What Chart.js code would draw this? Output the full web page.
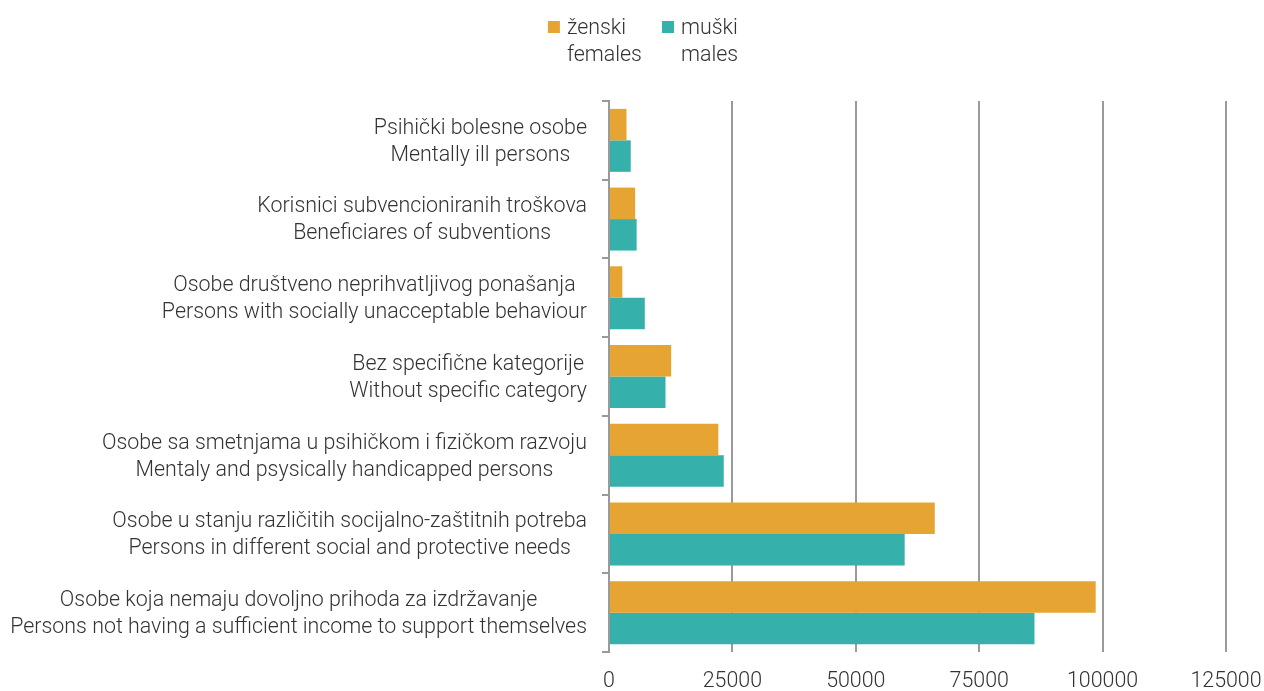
<!DOCTYPE html>
<html>
<head>
<meta charset="utf-8">
<script src="https://cdn.jsdelivr.net/npm/chart.js@4.4.1/dist/chart.umd.min.js"></script>
<style>
    html, body { margin: 0; padding: 0; background: #fff; }
    #wrap { width: 1264px; height: 691px; position: relative; }
</style>
</head>
<body>
<div id="wrap"><canvas id="chart"></canvas></div>
<script>
// ── Data ──────────────────────────────────────────────────────────────────────

const categoriesHr = [
    'Psihički bolesne osobe',
    'Korisnici subvencioniranih troškova',
    'Osobe društveno neprihvatljivog ponašanja',
    'Bez specifične kategorije',
    'Osobe sa smetnjama u psihičkom i fizičkom razvoju',
    'Osobe u stanju različitih socijalno-zaštitnih potreba',
    'Osobe koja nemaju dovoljno prihoda za izdržavanje',
];
const categoriesEn = [
    'Mentally ill persons',
    'Beneficiares of subventions',
    'Persons with socially unacceptable behaviour',
    'Without specific category',
    'Mentaly and psysically handicapped persons',
    'Persons in different social and protective needs',
    'Persons not having a sufficient income to support themselves',
];
const femaleValues = [3550, 5300, 2700, 12600, 22150, 66000, 98600];
const maleValues = [4400, 5600, 7250, 11450, 23250, 59900, 86200];
const xTickValues = [0, 25000, 50000, 75000, 100000, 125000];
const seriesLabels = [['ženski', 'females'], ['muški', 'males']];

const colors = { female: '#e6a532', male: '#35b0aa', grid: '#9a9a9a', text: '#333333' };
const FONT = 'Roboto';
const FONT_SIZE = 21.4;

// ── Plugins ───────────────────────────────────────────────────────────────────

// two-line category labels, lines centred on each other, block right-aligned
const blockLabelsPlugin = {
    id: 'blockLabels',
    afterDraw(chart) {
        const { ctx, chartArea } = chart;
        const yScale = chart.scales.y;
        const right = chartArea.left - 22;
        const lineH = 27;
        ctx.save();
        ctx.font = `300 ${FONT_SIZE}px ${FONT}`;
        ctx.fillStyle = colors.text;
        ctx.textAlign = 'center';
        ctx.textBaseline = 'middle';
        categoriesHr.forEach((hr, i) => {
            const lines = [hr, categoriesEn[i]];
            const w = Math.max(...lines.map((l) => ctx.measureText(l).width));
            const cx = right - w / 2;
            const cy = yScale.getPixelForValue(i) + 1.5;
            ctx.fillText(lines[0], cx, cy - lineH / 2);
            ctx.fillText(lines[1], cx, cy + lineH / 2);
        });
        ctx.restore();
    },
};

// legend: square + two-line text per series, centred at the top
const twoLineLegendPlugin = {
    id: 'twoLineLegend',
    afterDraw(chart) {
        const { ctx, width } = chart;
        const box = 12;
        const gap = 7;
        const spacing = 20;
        ctx.save();
        ctx.font = `300 ${FONT_SIZE}px ${FONT}`;
        ctx.textBaseline = 'middle';
        ctx.textAlign = 'left';
        const itemWidths = seriesLabels.map((lines) =>
            box + gap + Math.max(...lines.map((l) => ctx.measureText(l).width)));
        const total = itemWidths.reduce((a, b) => a + b, 0) + spacing * (itemWidths.length - 1);
        let x = width / 2 - total / 2 + 11;
        chart.data.datasets.forEach((ds, i) => {
            ctx.fillStyle = ds.backgroundColor;
            ctx.fillRect(x, 21, box, box);
            ctx.fillStyle = colors.text;
            seriesLabels[i].forEach((line, j) => {
                ctx.fillText(line, x + box + gap, 28.5 + j * 27.5);
            });
            x += itemWidths[i] + spacing;
        });
        ctx.restore();
    },
};

// ── Chart ─────────────────────────────────────────────────────────────────────

new Chart(document.getElementById('chart'), {
    type: 'bar',
    data: {
        labels: categoriesHr,
        datasets: [
            { label: 'ženski females', data: femaleValues, backgroundColor: colors.female },
            { label: 'muški males', data: maleValues, backgroundColor: colors.male },
        ],
    },
    options: {
        indexAxis: 'y',
        responsive: true,
        maintainAspectRatio: false,
        animation: false,
        categoryPercentage: 0.8,
        barPercentage: 1.0,
        layout: { padding: { top: 101, left: 0, right: 0, bottom: 0 } },
        plugins: {
            tooltip: { enabled: false },
            legend: { display: false },
        },
        scales: {
            x: {
                min: 0,
                max: 125000,
                afterBuildTicks(scale) {
                    scale.ticks = xTickValues.map((v) => ({ value: v }));
                },
                afterFit(scale) {
                    scale.height = 39;
                    scale.paddingRight = 38;
                    scale.paddingLeft = 0;
                },
                border: { display: false },
                grid: { color: colors.grid, lineWidth: 2, drawTicks: false },
                ticks: {
                    padding: 17,
                    maxRotation: 0,
                    color: colors.text,
                    font: { family: FONT, size: FONT_SIZE, weight: '300' },
                    callback: (v) => String(v),
                },
            },
            y: {
                afterFit(scale) { scale.width = 609; },
                border: { display: true, color: colors.grid, width: 2 },
                grid: { drawOnChartArea: false, drawTicks: true, tickLength: 7, color: colors.grid, lineWidth: 2 },
                ticks: { display: false },
            },
        },
    },
    plugins: [blockLabelsPlugin, twoLineLegendPlugin],
});
</script>
</body>
</html>
